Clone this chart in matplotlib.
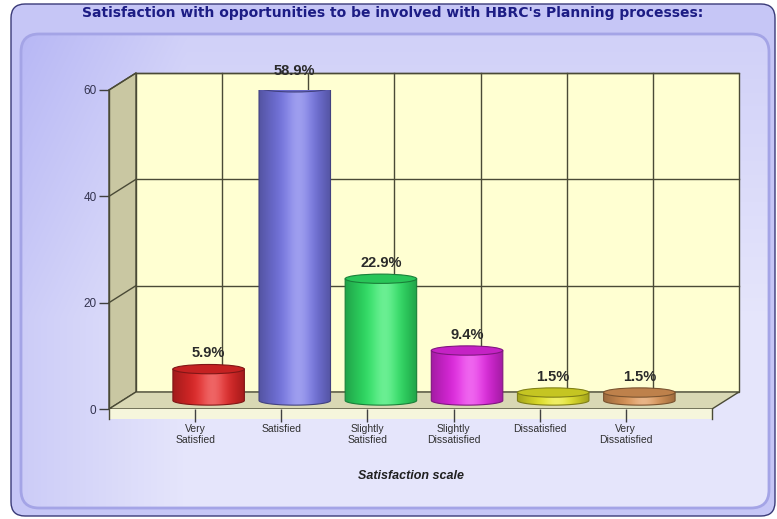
import numpy as np
import matplotlib
matplotlib.use("Agg")
import matplotlib.pyplot as plt
import matplotlib.patches as patches
from matplotlib.colors import to_rgb

# data
categories = ["Very\nSatisfied", "Satisfied", "Slightly\nSatisfied",
              "Slightly\nDissatisfied", "Dissatisfied", "Very\nDissatisfied"]
values = [5.9, 58.9, 22.9, 9.4, 1.5, 1.5]
bar_colors = ["#e82828", "#7878e8", "#30e868", "#e828e8", "#e8e828", "#e09858"]
y_ticks = [0, 20, 40, 60]
title = "Satisfaction with opportunities to be involved with HBRC's Planning processes:"
x_title = "Satisfaction scale"

W, H = 777, 519
fig = plt.figure(figsize=(W / 100, H / 100), dpi=100)
fig.patch.set_facecolor("#ffffff")

# background frame (pixel coords)
bg = fig.add_axes([0, 0, 1, 1], zorder=0)
bg.set_xlim(0, W)
bg.set_ylim(H, 0)
bg.axis("off")
outer = patches.FancyBboxPatch((11, 4), 764, 512, boxstyle="round,pad=0,rounding_size=14",
                               fc="#c6c6f6", ec="#3a3a78", lw=1.0, zorder=1)
bg.add_patch(outer)
inner = patches.FancyBboxPatch((21, 34), 748, 474, boxstyle="round,pad=0,rounding_size=18",
                               fc="none", ec="#a4a4e6", lw=2.0, zorder=3)
bg.add_patch(inner)
gx = np.linspace(0, 1, 200)
gy = np.linspace(0, 1, 120)
XX, YY = np.meshgrid(gx, gy)
t = np.clip(0.55 * np.clip(XX / 0.22, 0, 1) + 0.45 * np.clip(YY / 0.6, 0, 1), 0, 1)
c0 = np.array([0.72, 0.72, 0.96])
c1 = np.array([0.90, 0.90, 0.985])
grad = c0[None, None, :] * (1 - t[..., None]) + c1[None, None, :] * t[..., None]
im = bg.imshow(grad, extent=(21, 769, 508, 34), aspect="auto", interpolation="bilinear", zorder=2)
im.set_clip_path(inner)
bg.set_xlim(0, W)
bg.set_ylim(H, 0)
bg.text(393, 13, title, ha="center", va="center", fontsize=10, fontweight="bold",
        color="#1c1c84", family="DejaVu Sans")

# main axes: front plane of the 3D box
ax = fig.add_axes([109 / W, (H - 409) / H, 603 / W, 319 / H], zorder=1)
ax.patch.set_visible(False)
for s in ax.spines.values():
    s.set_visible(False)
ax.set_xlim(0, 7)
ax.set_ylim(0, 60)
DX, DY = 0.313, 3.2   # depth offset in data units
line_c = "#4a4a36"

# walls
back = patches.Polygon([(DX, DY), (7 + DX, DY), (7 + DX, 60 + DY), (DX, 60 + DY)],
                       closed=True, fc="#ffffd2", ec=line_c, lw=1, clip_on=False, zorder=1)
left = patches.Polygon([(0, 0), (DX, DY), (DX, 60 + DY), (0, 60)],
                       closed=True, fc="#c9c7a2", ec=line_c, lw=1, clip_on=False, zorder=1)
floor = patches.Polygon([(0, 0), (7, 0), (7 + DX, DY), (DX, DY)],
                        closed=True, fc="#d9d8b4", ec=line_c, lw=1, clip_on=False, zorder=1)
for p in (back, left, floor):
    ax.add_patch(p)
front_strip = patches.Rectangle((0, -1.9), 7, 1.9, fc="#f6f6dc", ec="none", clip_on=False, zorder=1)
ax.add_patch(front_strip)

for v in y_ticks[1:]:
    ax.plot([DX, 7 + DX], [v + DY, v + DY], color=line_c, lw=1, zorder=2, clip_on=False)
    ax.plot([0, DX], [v, v + DY], color=line_c, lw=1, zorder=2, clip_on=False)
for k in range(1, 7):
    ax.plot([k + DX, k + DX], [DY, 60 + DY], color=line_c, lw=1, zorder=2, clip_on=False)
ax.plot([0, 0], [-1.9, 60], color=line_c, lw=1, zorder=2, clip_on=False)
ax.plot([7, 7], [-1.9, 0], color=line_c, lw=1, zorder=2, clip_on=False)

# cylinders
bw = 0.83
eh = 1.75
base = DY / 2
for i, (v, col) in enumerate(zip(values, bar_colors)):
    cx = i + 1 + DX / 2
    top = base + v
    a, b = bw / 2, eh / 2
    th = np.linspace(np.pi, 2 * np.pi, 60)
    pts = [(cx + a * np.cos(q), base + b * np.sin(q)) for q in th]
    pts += [(cx + a, top), (cx - a, top)]
    body = patches.Polygon(pts, closed=True, fc="none", ec="none", zorder=3)
    ax.add_patch(body)
    rgb = np.array(to_rgb(col))
    u = np.linspace(0, 1, 120)
    shade = np.where(u < 0.55, 0.7 + 0.3 * np.sin(u / 0.55 * np.pi / 2),
                     0.7 + 0.3 * np.cos((u - 0.55) / 0.45 * np.pi / 2))
    hl = np.clip(0.28 * np.exp(-((u - 0.55) / 0.18) ** 2), 0, 1)
    row = rgb[None, :] * shade[:, None]
    row = row * (1 - hl[:, None]) + hl[:, None]
    img = ax.imshow(row[None, :, :], extent=(cx - a, cx + a, base - b, top),
                    aspect="auto", interpolation="bilinear", zorder=3)
    img.set_clip_path(body)
    edge = tuple(rgb * 0.55)
    ax.add_patch(patches.Polygon(pts, closed=True, fc="none", ec=edge, lw=0.8, zorder=4))
    cap = patches.Ellipse((cx, top), bw, eh, fc=tuple(rgb * 0.85), ec=edge, lw=0.8, zorder=5)
    ax.add_patch(cap)
    ax.text(cx, top + 3.0, f"{v}%", ha="center", va="center", fontsize=10.5,
            fontweight="bold", color="#2a2a2a", family="Liberation Sans", zorder=6)

ax.set_xlim(0, 7)
ax.set_ylim(0, 60)

# axes ticks and labels
ax.set_yticks(y_ticks)
ax.set_yticklabels([str(v) for v in y_ticks], fontsize=8.5, color="#343450", family="Liberation Sans")
ax.tick_params(axis="y", direction="out", length=7, width=1, color="#404040", pad=2)
ax.set_xticks(range(1, 7))
ax.set_xticklabels(categories, fontsize=7.5, color="#303030", family="Liberation Sans",
                   linespacing=1.05)
ax.tick_params(axis="x", direction="out", length=9, width=1, color="#404040", pad=2)
ax.set_xlabel(x_title, fontsize=9, fontweight="bold", style="italic", color="#202020",
              family="Liberation Sans")
ax.xaxis.set_label_coords(0.5, -0.19)
ax.xaxis.label.set_va("top")

fig.savefig("out.png", dpi=100, facecolor=fig.get_facecolor())
